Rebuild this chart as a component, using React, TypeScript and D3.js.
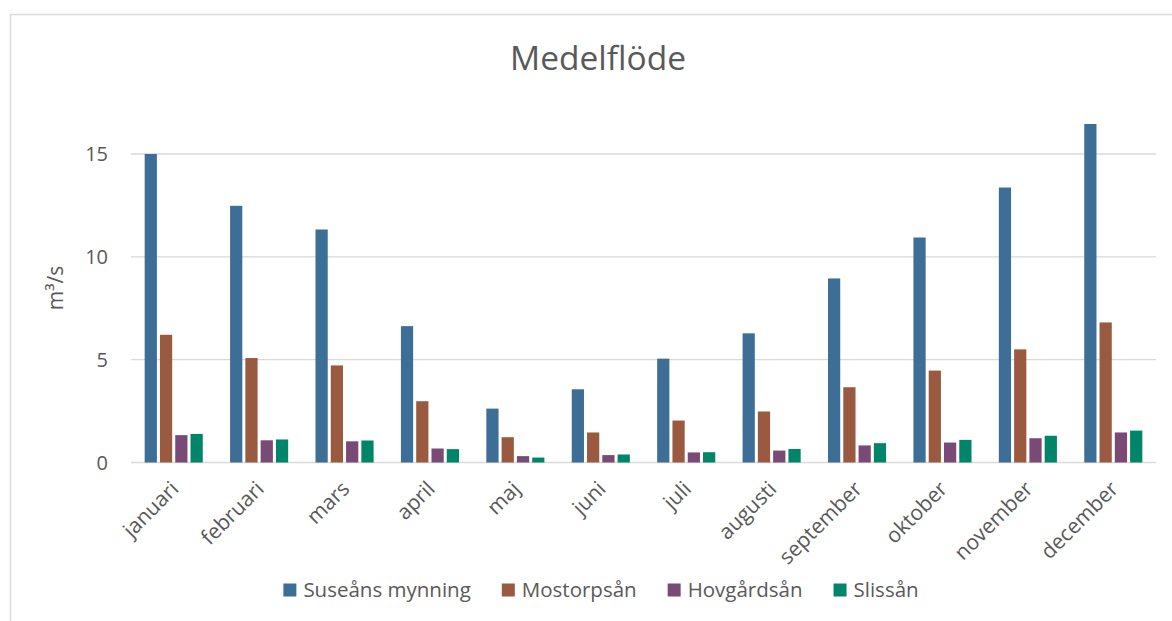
import React, { useEffect, useRef } from "react";
import * as d3 from "d3";

const months = ["januari", "februari", "mars", "april", "maj", "juni", "juli", "augusti", "september", "oktober", "november", "december"];
const seriesNames = ["Suseåns mynning", "Mostorpsån", "Hovgårdsån", "Slissån"];
const seriesColors = ["#3D6F96", "#9A5A3F", "#794A76", "#00856A"];
const suseans = [15.0, 12.48, 11.33, 6.63, 2.62, 3.56, 5.05, 6.28, 8.95, 10.94, 13.37, 16.46];
const mostorpsan = [6.21, 5.08, 4.72, 2.98, 1.23, 1.46, 2.04, 2.48, 3.66, 4.47, 5.5, 6.81];
const hovgardsan = [1.33, 1.08, 1.03, 0.68, 0.31, 0.36, 0.49, 0.58, 0.83, 0.97, 1.18, 1.46];
const slissan = [1.39, 1.12, 1.07, 0.65, 0.24, 0.39, 0.5, 0.66, 0.94, 1.1, 1.3, 1.55];
const yTicks = [0, 5, 10, 15];
const title = "Medelflöde";
const yTitle = "m³/s";

const W = 1172;
const H = 621;
const FONT = "'Open Sans', sans-serif";
const TEXT = "#595959";
const GRID = "#D9D9D9";

export default function App() {
  const ref = useRef<SVGSVGElement>(null);

  useEffect(() => {
    const svg = d3.select(ref.current);
    svg.selectAll("*").remove();
    const values = [suseans, mostorpsan, hovgardsan, slissan];

    // chart border
    svg.append("rect").attr("x", 10.5).attr("y", 14.5).attr("width", 1300).attr("height", 800)
      .attr("fill", "#fff").attr("stroke", GRID).attr("stroke-width", 1.5);

    const left = 131, right = 1156;
    const x0 = d3.scaleBand<string>().domain(months).range([left, right]).paddingInner(0.32).paddingOuter(0.16);
    const x1 = d3.scaleBand<string>().domain(seriesNames).range([0, x0.bandwidth()]).paddingInner(0.2);
    const y = d3.scaleLinear().domain([0, 15]).range([462.5, 154]);

    // gridlines
    svg.append("g").selectAll("line").data(yTicks).join("line")
      .attr("x1", left).attr("x2", right)
      .attr("y1", (d) => y(d)).attr("y2", (d) => y(d))
      .attr("stroke", GRID).attr("stroke-width", 1.4);

    // y tick labels
    svg.append("g").selectAll("text").data(yTicks).join("text")
      .attr("x", 108).attr("y", (d) => y(d)).attr("dy", "0.36em")
      .attr("text-anchor", "end").attr("font-family", FONT).attr("font-size", 20).attr("fill", TEXT)
      .text((d) => String(d));

    // bars
    const g = svg.append("g");
    months.forEach((m, i) => {
      seriesNames.forEach((s, k) => {
        const v = values[k][i];
        g.append("rect")
          .attr("x", (x0(m) as number) + (x1(s) as number))
          .attr("y", y(v))
          .attr("width", x1.bandwidth())
          .attr("height", y(0) - y(v))
          .attr("fill", seriesColors[k]);
      });
    });

    // x labels
    svg.append("g").selectAll("text").data(months).join("text")
      .attr("transform", (d) => `translate(${(x0(d) as number) + x0.bandwidth() / 2 + 1},${485}) rotate(-45)`)
      .attr("text-anchor", "end").attr("dy", "0.35em")
      .attr("font-family", FONT).attr("font-size", 21).attr("fill", TEXT)
      .text((d) => d);

    // title
    svg.append("text").attr("x", 598).attr("y", 70).attr("text-anchor", "middle")
      .attr("font-family", FONT).attr("font-size", 33.5).attr("fill", TEXT).text(title);

    // y title
    svg.append("text").attr("transform", "translate(63,288) rotate(-90)").attr("text-anchor", "middle")
      .attr("font-family", FONT).attr("font-size", 21).attr("fill", TEXT).text(yTitle);

    // legend
    const lg = svg.append("g");
    const items = seriesNames.map((name, k) => {
      const it = lg.append("g");
      it.append("rect").attr("width", 13).attr("height", 13).attr("y", -6.5).attr("fill", seriesColors[k]);
      const t = it.append("text").attr("x", 20).attr("dy", "0.35em")
        .attr("font-family", FONT).attr("font-size", 20.5).attr("fill", TEXT).text(name);
      const w = (t.node() as SVGTextElement).getComputedTextLength();
      return { it, w: 20 + w };
    });
    const gap = 31;
    const total = d3.sum(items, (d) => d.w) + gap * (items.length - 1);
    let cx = 601 - total / 2;
    items.forEach((d) => {
      d.it.attr("transform", `translate(${cx},590)`);
      cx += d.w + gap;
    });
  }, []);

  return (
    <svg ref={ref} width={W} height={H} style={{ position: "absolute", left: 0, top: 0, background: "#fff" }} />
  );
}
